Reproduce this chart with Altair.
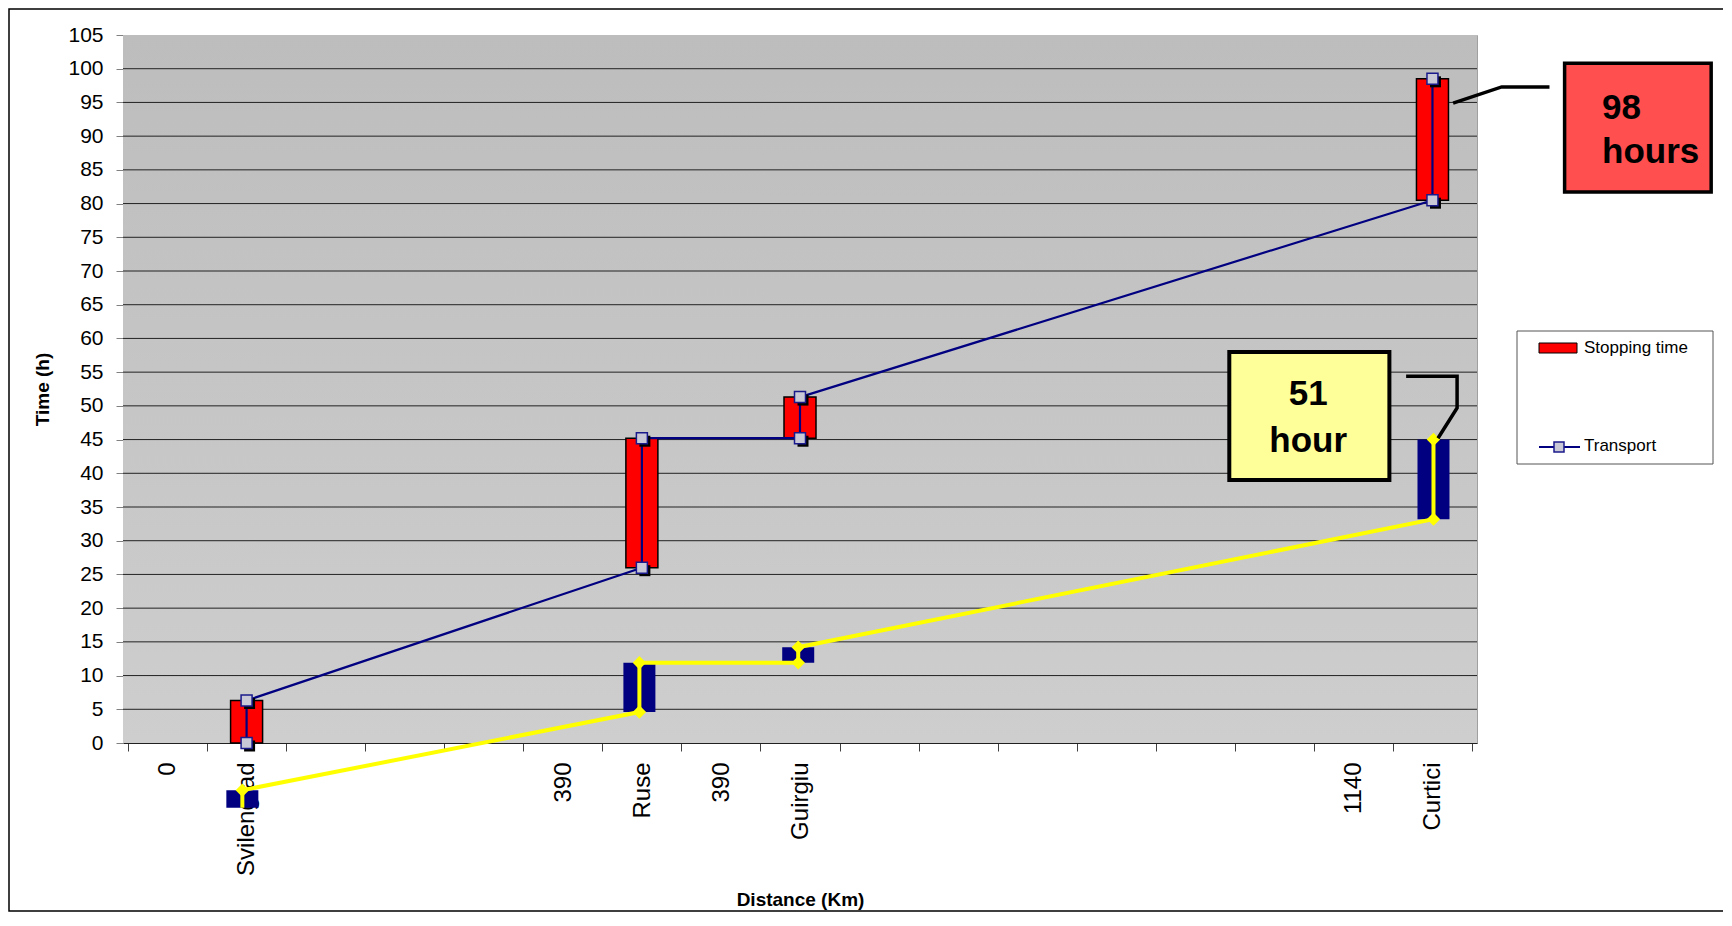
import json
import altair as alt
import pandas as pd

# ---------------- data ----------------
x_labels = ["0", "Svilengrad", "", "", "", "390", "Ruse", "390", "Guirgiu",
            "", "", "", "", "", "", "1140", "Curtici"]
stations = ["Svilengrad", "Ruse", "Guirgiu", "Curtici"]
# Transport route (blue line, red stopping-time bars) - primary axis
transport_arrive = [0.0, 26.0, 45.2, 80.5]
transport_depart = [6.3, 45.2, 51.3, 98.5]
# Alternative route (yellow line, dark blue stopping-time bars) - secondary axis
alt_arrive = [-9.6, 4.6, 11.9, 33.2]
alt_depart = [-7.0, 11.9, 14.2, 45.0]
y_ticks = list(range(0, 106, 5))
grid_values = list(range(5, 101, 5))

# annotation anchors (data units: category index / hours)
box98_x = [18.10, 19.94]
box98_y = [81.7, 100.8]
text98_x = [18.57, 18.57]
text98_y = [92.6, 86.0]
text98 = ["98", "hours"]
lead98_x = [16.70, 17.31, 17.91]
lead98_y = [94.9, 97.3, 97.3]

box51_x = [13.89, 15.90]
box51_y = [39.0, 58.0]
text51_x = [14.88, 14.88]
text51_y = [50.1, 43.2]
text51 = ["51", "hour"]
lead51_x = [16.11, 16.75, 16.75, 16.51]
lead51_y = [54.4, 54.4, 49.7, 45.2]

legend_items = ["Stopping time", "Transport"]

# ---------------- layout ----------------
W, H = 1354, 708
N = len(x_labels)
FONT = "Liberation Sans"

station_x = [x_labels.index(s) + 0.5 for s in stations]

red_df = pd.DataFrame({"x": station_x, "t": transport_arrive, "t2": transport_depart})
navy_df = pd.DataFrame({"x": station_x, "t": alt_arrive, "t2": alt_depart})


def path(arr, dep):
    rows = []
    for k, (x, a, d) in enumerate(zip(station_x, arr, dep)):
        rows.append({"order": 2 * k, "x": x, "t": a})
        rows.append({"order": 2 * k + 1, "x": x, "t": d})
    return pd.DataFrame(rows)


blue_df = path(transport_arrive, transport_depart)
yellow_df = path(alt_arrive, alt_depart)
grid_df = pd.DataFrame({"t": grid_values})

xscale = alt.Scale(domain=[0, N], nice=False, zero=False)
# secondary category axis of the second route (slightly different extent, as in the source)
xscale2 = alt.Scale(domain=[0.06, 16.985], nice=False, zero=False)
yscale = alt.Scale(domain=[0, 105], nice=False, zero=False)

label_expr = "datum.value < %d ? %s[datum.value] : ''" % (N, json.dumps(x_labels))

xaxis = alt.Axis(
    title="Distance (Km)", values=list(range(N + 1)), labelExpr=label_expr,
    labelAngle=270, labelFontSize=24, labelOffset=W / N / 2, labelPadding=11,
    labelFlush=False, labelOverlap=False, labelColor="black", labelFont=FONT,
    tickSize=8, tickColor="#404040", domainColor="#202020", grid=False,
    titleFontSize=19, titleFontWeight="bold", titleFont=FONT, titleY=156,
    titleBaseline="middle", titleColor="black",
)
yaxis = alt.Axis(
    title="Time (h)", values=y_ticks, grid=False, labelFontSize=21,
    labelPadding=13, labelColor="black", labelFont=FONT, tickSize=7,
    tickColor="#808080", domainColor="#808080", titleFontSize=19,
    titleFontWeight="bold", titleFont=FONT, titleX=-81, titleY=H / 2,
    titleAngle=270, titleAlign="center", titleBaseline="middle", titleColor="black",
)

X = alt.X("x:Q", scale=xscale, axis=xaxis)
XA = alt.X("x:Q", scale=xscale, axis=None)
X2 = alt.X("x:Q", scale=xscale2, axis=None)
Y = alt.Y("t:Q", scale=yscale, axis=yaxis)

one = alt.Data(values=[{}])

bg = alt.Chart(one).mark_rect(
    color=alt.LinearGradient(
        gradient="linear",
        stops=[alt.GradientStop(color="#bdbdbd", offset=0),
               alt.GradientStop(color="#cecece", offset=1)],
        x1=0, x2=0, y1=0, y2=1,
    )
).encode(x=alt.value(0), x2=alt.value(W), y=alt.value(0), y2=alt.value(H))

grid = alt.Chart(grid_df).mark_rule(color="#222222", strokeWidth=1).encode(
    y=Y, x=alt.value(0), x2=alt.value(W)
)

red_bars = alt.Chart(red_df).mark_bar(
    size=32, color="#ff0000", stroke="black", strokeWidth=1.5
).encode(x=X, y=Y, y2="t2:Q")

blue_line = alt.Chart(blue_df).mark_line(color="#000080", strokeWidth=2.2).encode(
    x=X, y=Y, order="order:Q"
)
shadows = alt.Chart(blue_df).mark_square(
    size=121, color="black", opacity=1, xOffset=3, yOffset=3
).encode(x=X, y=Y)
squares = alt.Chart(blue_df).mark_square(
    size=121, fill="#c8c8d6", fillOpacity=1, stroke="#1a1a8c", strokeWidth=1.5, opacity=1
).encode(x=X, y=Y)

navy_bars = alt.Chart(navy_df).mark_bar(size=32, color="#000080").encode(
    x=X2, y=Y, y2="t2:Q"
)
yellow_line = alt.Chart(yellow_df).mark_line(color="#ffff00", strokeWidth=4).encode(
    x=X2, y=Y, order="order:Q"
)
diamonds = alt.Chart(yellow_df).transform_filter("datum.order > 0").mark_point(
    shape="diamond", size=180, filled=True, color="#ffff00", opacity=1
).encode(x=X2, y=Y)

# ---- annotations ----
box98 = alt.Chart(pd.DataFrame({"x": [box98_x[0]], "x2": [box98_x[1]],
                                "t": [box98_y[0]], "t2": [box98_y[1]]})).mark_rect(
    color="#ff4f4f", stroke="black", strokeWidth=3.5
).encode(x=XA, x2="x2:Q", y=Y, y2="t2:Q")
lead98 = alt.Chart(pd.DataFrame({"x": lead98_x, "t": lead98_y,
                                 "order": list(range(len(lead98_x)))})).mark_line(
    color="black", strokeWidth=3.5
).encode(x=XA, y=Y, order="order:Q")
txt98 = alt.Chart(pd.DataFrame({"x": text98_x, "t": text98_y, "s": text98})).mark_text(
    font=FONT, fontSize=35, fontWeight="bold", align="left", baseline="alphabetic", color="black"
).encode(x=XA, y=Y, text="s:N")

box51 = alt.Chart(pd.DataFrame({"x": [box51_x[0]], "x2": [box51_x[1]],
                                "t": [box51_y[0]], "t2": [box51_y[1]]})).mark_rect(
    color="#ffff99", stroke="black", strokeWidth=4
).encode(x=XA, x2="x2:Q", y=Y, y2="t2:Q")
lead51 = alt.Chart(pd.DataFrame({"x": lead51_x, "t": lead51_y,
                                 "order": list(range(len(lead51_x)))})).mark_line(
    color="black", strokeWidth=3.5
).encode(x=XA, y=Y, order="order:Q")
txt51 = alt.Chart(pd.DataFrame({"x": text51_x, "t": text51_y, "s": text51})).mark_text(
    font=FONT, fontSize=35, fontWeight="bold", align="center", baseline="alphabetic", color="black"
).encode(x=XA, y=Y, text="s:N")

# ---- legend (drawn) ----
lg_box = alt.Chart(one).mark_rect(fill="white", stroke="#555555", strokeWidth=1).encode(
    x=alt.value(1394), x2=alt.value(1590), y=alt.value(296), y2=alt.value(429)
)
lg_red = alt.Chart(one).mark_rect(fill="#ff0000", stroke="black", strokeWidth=1).encode(
    x=alt.value(1416), x2=alt.value(1454), y=alt.value(308), y2=alt.value(318)
)
lg_line = alt.Chart(one).mark_rule(color="#000080", strokeWidth=2).encode(
    x=alt.value(1416), x2=alt.value(1457), y=alt.value(412)
)
lg_sq = alt.Chart(one).mark_square(
    size=100, fill="#c8c8d6", fillOpacity=1, stroke="#1a1a8c", strokeWidth=1.5, opacity=1
).encode(x=alt.value(1436), y=alt.value(412))
lg_txt1 = alt.Chart(one).mark_text(
    text=legend_items[0], font=FONT, fontSize=17, align="left", baseline="middle", color="black"
).encode(x=alt.value(1461), y=alt.value(313))
lg_txt2 = alt.Chart(one).mark_text(
    text=legend_items[1], font=FONT, fontSize=17, align="left", baseline="middle", color="black"
).encode(x=alt.value(1461), y=alt.value(411))

frame = alt.Chart(one).mark_rect(fillOpacity=0, stroke="black", strokeWidth=1.5).encode(
    x=alt.value(-114), x2=alt.value(W + 280), y=alt.value(-26), y2=alt.value(H + 168)
)

primary = alt.layer(bg, grid, red_bars, blue_line, shadows, squares)
secondary = alt.layer(navy_bars, yellow_line, diamonds)
extras = alt.layer(lead98, box98, txt98, lead51, box51, txt51,
                   lg_box, lg_red, lg_line, lg_sq, lg_txt1, lg_txt2, frame)

chart = alt.layer(primary, secondary, extras).resolve_scale(
    x="independent"
).properties(
    width=W, height=H,
    autosize=alt.AutoSizeParams(type="none"),
    padding={"left": 115, "top": 27, "right": 246, "bottom": 170},
    background="white",
).configure_view(stroke="#a0a0a0", strokeWidth=1, fill=None)

chart.save("out.html", embed_options={"renderer": "svg", "actions": False})
